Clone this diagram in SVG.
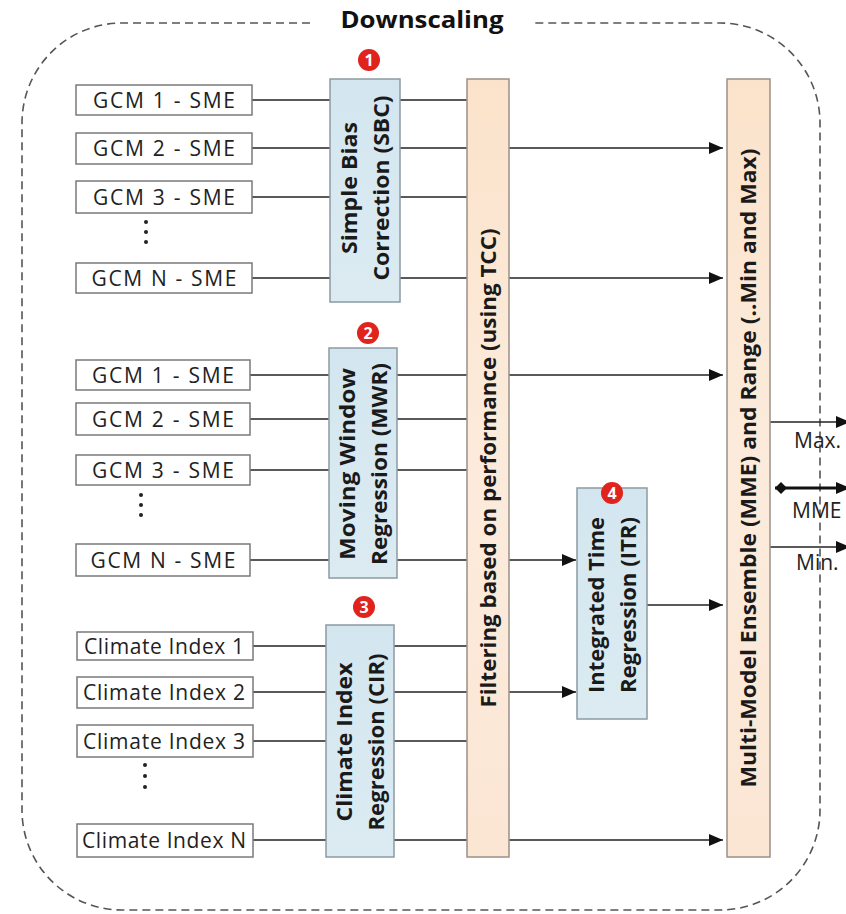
<svg xmlns="http://www.w3.org/2000/svg" width="846" height="914" viewBox="0 0 846 914">
<defs>
<linearGradient id="peach" x1="0" y1="0" x2="0" y2="1">
<stop offset="0" stop-color="#fbe3cb"/>
<stop offset="0.5" stop-color="#fcebdc"/>
<stop offset="1" stop-color="#fbe6d4"/>
</linearGradient>
<linearGradient id="blue" x1="0" y1="0" x2="0" y2="1">
<stop offset="0" stop-color="#d3e6ef"/>
<stop offset="1" stop-color="#dcebf2"/>
</linearGradient>
<marker id="arr" markerUnits="userSpaceOnUse" markerWidth="14" markerHeight="12" viewBox="0 0 14 12" refX="14" refY="6" orient="auto">
<path d="M0,0 L14,6 L0,12 z" fill="#111"/>
</marker>
<marker id="dia" markerUnits="userSpaceOnUse" markerWidth="12" markerHeight="12" viewBox="0 0 12 12" refX="0" refY="6" orient="auto">
<path d="M0,6 L6,0 L12,6 L6,12 z" fill="#111"/>
</marker>
</defs>
<style>
.in{fill:#fff;stroke:#7a7a7a;stroke-width:1.5}
.lbl{font-family:"Open Sans","Liberation Sans",sans-serif;font-size:21px;fill:#222;text-anchor:middle;dominant-baseline:central}
.blue{fill:url(#blue);stroke:#8c9ba2;stroke-width:1.5}
.peach{fill:url(#peach);stroke:#9a9088;stroke-width:1.5}
.vt{font-family:"Open Sans","Liberation Sans",sans-serif;font-size:21px;font-weight:700;fill:#1a1a1a;text-anchor:middle;dominant-baseline:central}
.ln{stroke:#222;stroke-width:1.6;fill:none}
.ar{stroke:#222;stroke-width:1.6;fill:none;marker-end:url(#arr)}
.dots{fill:#222}
.badge{fill:#e0231c}
.bt{font-family:"Open Sans","Liberation Sans",sans-serif;font-size:16px;font-weight:700;fill:#fff;text-anchor:middle;dominant-baseline:central}
.out{font-family:"Open Sans","Liberation Sans",sans-serif;font-size:21px;fill:#222}
</style>
<rect width="846" height="914" fill="#fff"/>

<g id="frame">
<path d="M310,23 L122,23 A100,100 0 0 0 22,123 L22,810 A100,100 0 0 0 122,910 L720,910 A100,100 0 0 0 820,810 L820,123 A100,100 0 0 0 720,23 L534,23" fill="none" stroke="#555" stroke-width="1.6" stroke-dasharray="8,5"/>
<text x="422" y="28" font-family="'Open Sans','Liberation Sans',sans-serif" font-size="24" font-weight="700" fill="#111" text-anchor="middle" textLength="163" lengthAdjust="spacingAndGlyphs">Downscaling</text>
</g>

<g id="connectors">
<line class="ln" x1="252" y1="100" x2="330" y2="100"/>
<line class="ln" x1="252" y1="148" x2="330" y2="148"/>
<line class="ln" x1="252" y1="197" x2="330" y2="197"/>
<line class="ln" x1="252" y1="278" x2="330" y2="278"/>
<line class="ln" x1="400" y1="100" x2="467" y2="100"/>
<line class="ln" x1="400" y1="148" x2="467" y2="148"/>
<line class="ln" x1="400" y1="197" x2="467" y2="197"/>
<line class="ln" x1="400" y1="278" x2="467" y2="278"/>
<line class="ar" x1="509" y1="148" x2="723" y2="148"/>
<line class="ar" x1="509" y1="278" x2="723" y2="278"/>
<line class="ln" x1="250" y1="375" x2="329" y2="375"/>
<line class="ln" x1="250" y1="419" x2="329" y2="419"/>
<line class="ln" x1="250" y1="470" x2="329" y2="470"/>
<line class="ln" x1="250" y1="560" x2="329" y2="560"/>
<line class="ln" x1="397" y1="375" x2="467" y2="375"/>
<line class="ln" x1="397" y1="419" x2="467" y2="419"/>
<line class="ln" x1="397" y1="470" x2="467" y2="470"/>
<line class="ln" x1="397" y1="560" x2="467" y2="560"/>
<line class="ar" x1="509" y1="375" x2="723" y2="375"/>
<line class="ar" x1="509" y1="560" x2="576" y2="560"/>
<line class="ln" x1="253" y1="646" x2="326" y2="646"/>
<line class="ln" x1="253" y1="692" x2="326" y2="692"/>
<line class="ln" x1="253" y1="741" x2="326" y2="741"/>
<line class="ln" x1="253" y1="840" x2="326" y2="840"/>
<line class="ln" x1="394" y1="646" x2="467" y2="646"/>
<line class="ln" x1="394" y1="692" x2="467" y2="692"/>
<line class="ln" x1="394" y1="741" x2="467" y2="741"/>
<line class="ln" x1="394" y1="840" x2="467" y2="840"/>
<line class="ar" x1="509" y1="692" x2="576" y2="692"/>
<line class="ar" x1="509" y1="840" x2="723" y2="840"/>
<line class="ar" x1="647" y1="605" x2="723" y2="605"/>
<line class="ar" x1="770" y1="422" x2="850" y2="422"/>
<line x1="775" y1="488" x2="850" y2="488" stroke="#111" stroke-width="3.2" marker-start="url(#dia)" marker-end="url(#arr)"/>
<line class="ar" x1="770" y1="547" x2="850" y2="547"/>
</g>

<g id="sbc-inputs">
<rect class="in" x="76" y="85" width="176" height="30"/>
<text class="lbl" x="164" y="100" textLength="142" lengthAdjust="spacing">GCM 1 - SME</text>
<rect class="in" x="76" y="133" width="176" height="31"/>
<text class="lbl" x="164" y="148" textLength="142" lengthAdjust="spacing">GCM 2 - SME</text>
<rect class="in" x="76" y="181" width="176" height="32"/>
<text class="lbl" x="164" y="197" textLength="142" lengthAdjust="spacing">GCM 3 - SME</text>
<circle class="dots" cx="146" cy="222" r="2"/>
<circle class="dots" cx="146" cy="232" r="2"/>
<circle class="dots" cx="146" cy="242" r="2"/>
<rect class="in" x="76" y="263" width="176" height="30"/>
<text class="lbl" x="164" y="278" textLength="145" lengthAdjust="spacing">GCM N - SME</text>
</g>

<g id="mwr-inputs">
<rect class="in" x="76" y="360" width="174" height="30"/>
<text class="lbl" x="163" y="375" textLength="142" lengthAdjust="spacing">GCM 1 - SME</text>
<rect class="in" x="76" y="403" width="174" height="32"/>
<text class="lbl" x="163" y="419" textLength="142" lengthAdjust="spacing">GCM 2 - SME</text>
<rect class="in" x="76" y="455" width="174" height="30"/>
<text class="lbl" x="163" y="470" textLength="142" lengthAdjust="spacing">GCM 3 - SME</text>
<circle class="dots" cx="141" cy="495" r="2"/>
<circle class="dots" cx="141" cy="505" r="2"/>
<circle class="dots" cx="141" cy="515" r="2"/>
<rect class="in" x="76" y="544" width="174" height="32"/>
<text class="lbl" x="163" y="560" textLength="145" lengthAdjust="spacing">GCM N - SME</text>
</g>

<g id="cir-inputs">
<rect class="in" x="77" y="632" width="176" height="28"/>
<text class="lbl" x="164" y="646" textLength="160" lengthAdjust="spacing">Climate Index 1</text>
<rect class="in" x="77" y="677" width="176" height="31"/>
<text class="lbl" x="164" y="692" textLength="162" lengthAdjust="spacing">Climate Index 2</text>
<rect class="in" x="77" y="725" width="176" height="32"/>
<text class="lbl" x="164" y="741" textLength="162" lengthAdjust="spacing">Climate Index 3</text>
<circle class="dots" cx="145" cy="765" r="2"/>
<circle class="dots" cx="145" cy="776" r="2"/>
<circle class="dots" cx="145" cy="787" r="2"/>
<rect class="in" x="77" y="824" width="176" height="33"/>
<text class="lbl" x="164" y="840" textLength="164" lengthAdjust="spacing">Climate Index N</text>
</g>

<g id="sbc">
<rect class="blue" x="330" y="79" width="70" height="223"/>
<g transform="translate(365,188) rotate(-90)">
<text class="vt" x="0" y="-16" textLength="132" lengthAdjust="spacingAndGlyphs">Simple Bias</text>
<text class="vt" x="0" y="16" textLength="185" lengthAdjust="spacingAndGlyphs">Correction (SBC)</text>
</g>
<circle class="badge" cx="369" cy="60" r="11"/>
<text class="bt" x="369" y="60">1</text>
</g>

<g id="mwr">
<rect class="blue" x="329" y="348" width="68" height="230"/>
<g transform="translate(363,464) rotate(-90)">
<text class="vt" x="0" y="-16" textLength="192" lengthAdjust="spacingAndGlyphs">Moving Window</text>
<text class="vt" x="0" y="16" textLength="202" lengthAdjust="spacingAndGlyphs">Regression (MWR)</text>
</g>
<circle class="badge" cx="368" cy="333" r="11"/>
<text class="bt" x="368" y="333">2</text>
</g>

<g id="cir">
<rect class="blue" x="326" y="625" width="68" height="232"/>
<g transform="translate(360,742) rotate(-90)">
<text class="vt" x="0" y="-16" textLength="159" lengthAdjust="spacingAndGlyphs">Climate Index</text>
<text class="vt" x="0" y="16" textLength="177" lengthAdjust="spacingAndGlyphs">Regression (CIR)</text>
</g>
<circle class="badge" cx="364" cy="607" r="11"/>
<text class="bt" x="364" y="607">3</text>
</g>

<g id="filter">
<rect class="peach" x="467" y="79" width="42" height="778"/>
<text class="vt" transform="translate(488,468) rotate(-90)" x="0" y="0" textLength="479" lengthAdjust="spacingAndGlyphs">Filtering based on performance (using TCC)</text>
</g>

<g id="itr">
<rect class="blue" x="577" y="488" width="70" height="231"/>
<g transform="translate(612,605) rotate(-90)">
<text class="vt" x="0" y="-16" textLength="176" lengthAdjust="spacingAndGlyphs">Integrated Time</text>
<text class="vt" x="0" y="16" textLength="176" lengthAdjust="spacingAndGlyphs">Regression (ITR)</text>
</g>
<circle class="badge" cx="612" cy="493" r="11"/>
<text class="bt" x="612" y="493">4</text>
</g>

<g id="mme">
<rect class="peach" x="727" y="79" width="43" height="778"/>
<text class="vt" transform="translate(748,468) rotate(-90)" x="0" y="0" textLength="639" lengthAdjust="spacingAndGlyphs">Multi-Model Ensemble (MME) and Range (..Min and Max)</text>
</g>

<g id="outputs">
<text class="out" x="794" y="448">Max.</text>
<text class="out" x="792" y="518">MME</text>
<text class="out" x="796" y="570">Min.</text>
</g>
</svg>
